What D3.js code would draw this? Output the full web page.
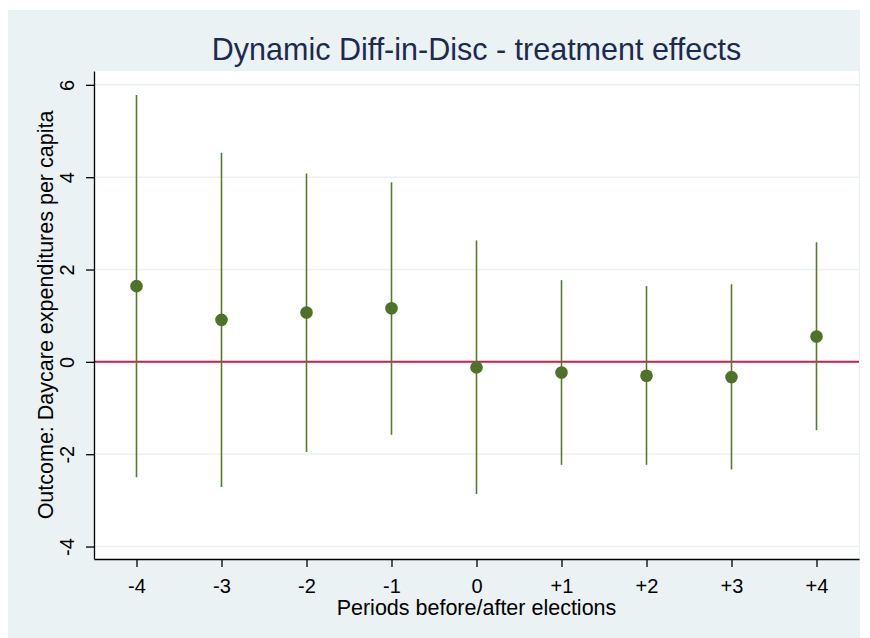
<!DOCTYPE html>
<html>
<head>
<meta charset="utf-8">
<script src="https://cdn.jsdelivr.net/npm/d3@7"></script>
<style>
  body { margin: 0; background: #fff; }
  svg { display: block; font-family: "Liberation Sans", Arial, sans-serif; }
</style>
</head>
<body>
<svg id="chart" width="870" height="638"></svg>
<script>
// periods relative to the election, and their labels
const periods = [-4, -3, -2, -1, 0, 1, 2, 3, 4];
const periodLabels = ["-4", "-3", "-2", "-1", "0", "+1", "+2", "+3", "+4"];
// point estimates and 95% CI bounds
const estimates = [1.64, 0.91, 1.07, 1.16, -0.12, -0.23, -0.30, -0.33, 0.55];
const ciUpper = [5.78, 4.53, 4.08, 3.89, 2.63, 1.77, 1.64, 1.68, 2.59];
const ciLower = [-2.50, -2.71, -1.95, -1.58, -2.86, -2.23, -2.23, -2.33, -1.48];
const yTicks = [-4, -2, 0, 2, 4, 6];

const data = periods.map((p, i) => ({
  p, est: estimates[i], lo: ciLower[i], hi: ciUpper[i]
}));

const margin = { top: 71, right: 11, bottom: 79, left: 94 };
const W = 870, H = 638;
const width = W - margin.left - margin.right,
  height = H - margin.top - margin.bottom;

const svg = d3.select("#chart");

// graph region background
svg.append("rect")
  .attr("x", 8).attr("y", 10)
  .attr("width", 852).attr("height", 628)
  .attr("fill", "#eaf2f3");

const g = svg.append("g")
  .attr("transform", `translate(${margin.left}, ${margin.top})`);

g.append("rect")
  .attr("width", width).attr("height", height)
  .attr("fill", "#fff");

const x = d3.scaleLinear().domain([-4.5, 4.5]).range([0, width]);
const y = d3.scaleLinear().domain([-4.27, 6.3]).range([height, 0]);

// gridlines
g.append("g")
  .selectAll("line")
  .data(yTicks.filter(d => d !== 0))
  .join("line")
  .attr("x1", 0).attr("x2", width)
  .attr("y1", d => y(d)).attr("y2", d => y(d))
  .attr("stroke", "#eaf1f3")
  .attr("stroke-width", 1.6);

// zero reference line
g.append("line")
  .attr("x1", 0).attr("x2", width)
  .attr("y1", y(0)).attr("y2", y(0))
  .attr("stroke", "#c4204e")
  .attr("stroke-width", 2);

// confidence intervals
g.append("g")
  .selectAll("line")
  .data(data)
  .join("line")
  .attr("x1", d => x(d.p)).attr("x2", d => x(d.p))
  .attr("y1", d => y(d.lo)).attr("y2", d => y(d.hi))
  .attr("stroke", "#577a2f")
  .attr("stroke-width", 1.6);

// point estimates
g.append("g")
  .selectAll("circle")
  .data(data)
  .join("circle")
  .attr("cx", d => x(d.p))
  .attr("cy", d => y(d.est))
  .attr("r", 6.3)
  .attr("fill", "#4f7229");

// axes
const xAxis = g.append("g")
  .attr("transform", `translate(0, ${height})`)
  .call(d3.axisBottom(x)
    .tickValues(periods)
    .tickFormat((d, i) => periodLabels[i])
    .tickSize(8)
    .tickPadding(0)
    .tickSizeOuter(0));

const yAxis = g.append("g")
  .call(d3.axisLeft(y)
    .tickValues(yTicks)
    .tickFormat(d => d < 0 ? "-" + Math.abs(d) : d)
    .tickSize(8)
    .tickSizeOuter(0));

[xAxis, yAxis].forEach(a => {
  a.attr("font-size", null);
  a.select(".domain").attr("stroke", "#000").attr("stroke-width", 1.3);
  a.selectAll(".tick line").attr("stroke", "#000").attr("stroke-width", 1.3);
  a.selectAll(".tick text")
    .attr("fill", "#000")
    .style("font-size", "20px")
    .style("font-family", "Liberation Sans, Arial, sans-serif");
});
// baseline of x tick labels at about 34px below the axis
xAxis.selectAll(".tick text").attr("y", 34).attr("dy", null);

// rotated y tick labels
yAxis.selectAll(".tick text")
  .attr("x", null).attr("dy", null)
  .attr("text-anchor", "middle")
  .attr("transform", "translate(-20, 0) rotate(-90)");

// titles
svg.append("text")
  .attr("x", margin.left + width / 2)
  .attr("y", 60)
  .attr("text-anchor", "middle")
  .attr("fill", "#1b2a50")
  .style("font-size", "30.5px")
  .text("Dynamic Diff-in-Disc - treatment effects");

svg.append("text")
  .attr("x", margin.left + width / 2)
  .attr("y", 615)
  .attr("text-anchor", "middle")
  .attr("fill", "#000")
  .style("font-size", "21.5px")
  .text("Periods before/after elections");

svg.append("text")
  .attr("transform", `translate(53, ${margin.top + height / 2}) rotate(-90)`)
  .attr("text-anchor", "middle")
  .attr("fill", "#000")
  .style("font-size", "21.5px")
  .text("Outcome: Daycare expenditures per capita");
</script>
</body>
</html>
